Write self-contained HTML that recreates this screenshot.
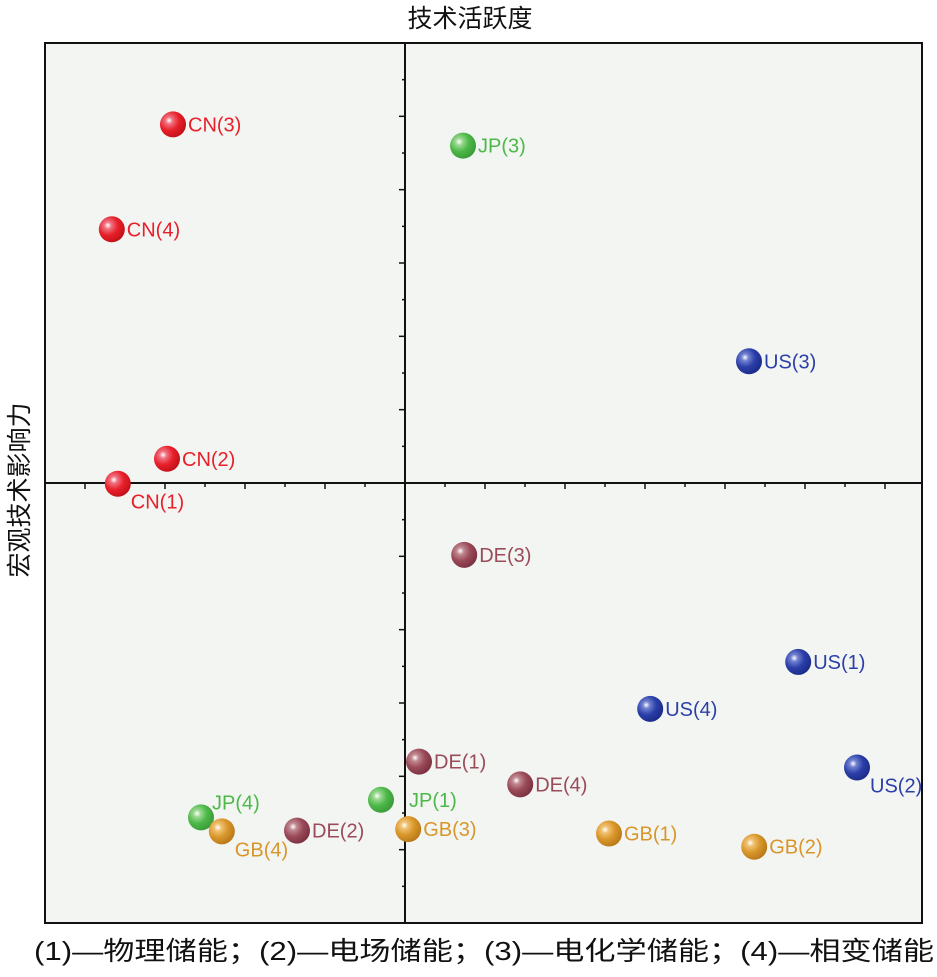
<!DOCTYPE html>
<html><head><meta charset="utf-8"><style>
body{margin:0;background:#fff;}
svg text{font-family:"Liberation Sans","Noto Sans CJK SC",sans-serif;}
</style></head><body>
<svg id="chart" width="937" height="972" viewBox="0 0 937 972" xmlns="http://www.w3.org/2000/svg">
<defs>
<radialGradient id="g-red" cx="0.35" cy="0.35" r="0.7"><stop offset="0" stop-color="#fff"/><stop offset="0.2" stop-color="#f07080"/><stop offset="0.55" stop-color="#e8202a"/><stop offset="1" stop-color="#c01018"/></radialGradient>
<radialGradient id="g-green" cx="0.35" cy="0.35" r="0.7"><stop offset="0" stop-color="#fff"/><stop offset="0.2" stop-color="#9ad890"/><stop offset="0.55" stop-color="#4cb848"/><stop offset="1" stop-color="#3a9a38"/></radialGradient>
<radialGradient id="g-blue" cx="0.35" cy="0.35" r="0.7"><stop offset="0" stop-color="#fff"/><stop offset="0.2" stop-color="#7080d0"/><stop offset="0.55" stop-color="#2b3fa8"/><stop offset="1" stop-color="#1a2a88"/></radialGradient>
<radialGradient id="g-maroon" cx="0.35" cy="0.35" r="0.7"><stop offset="0" stop-color="#fff"/><stop offset="0.2" stop-color="#c08890"/><stop offset="0.55" stop-color="#9a4a58"/><stop offset="1" stop-color="#7a3040"/></radialGradient>
<radialGradient id="g-orange" cx="0.35" cy="0.35" r="0.7"><stop offset="0" stop-color="#fff"/><stop offset="0.2" stop-color="#f0c070"/><stop offset="0.55" stop-color="#d8962a"/><stop offset="1" stop-color="#b87818"/></radialGradient>
</defs>
<rect x="45" y="43" width="877" height="880" fill="#f3f5f2" stroke="#111" stroke-width="2"/>
<g id="axes"></g>
<g id="points"></g>
<text x="470" y="27" font-size="25" text-anchor="middle" fill="#111">技术活跃度</text>
<text transform="translate(28,490) rotate(-90)" font-size="25" text-anchor="middle" fill="#111">宏观技术影响力</text>
<text x="34" y="960" font-size="26" fill="#111" textLength="900" lengthAdjust="spacingAndGlyphs">(1)—物理储能；(2)—电场储能；(3)—电化学储能；(4)—相变储能</text>
</svg>
<script>
const labels=["CN(3)","CN(4)","CN(2)","CN(1)","JP(3)","US(3)","DE(3)","US(1)","US(4)","DE(1)","DE(4)","US(2)","JP(1)","GB(3)","GB(1)","GB(2)","JP(4)","GB(4)","DE(2)"];
const xValues=[-5.8,-7.33,-5.95,-7.18,1.45,8.6,1.48,9.83,6.13,0.35,2.88,11.3,-0.6,0.08,5.1,8.73,-5.1,-4.58,-2.7];
const yValues=[4.89,3.46,0.33,-0.01,4.6,1.66,-0.98,-2.44,-3.08,-3.8,-4.11,-3.88,-4.32,-4.72,-4.78,-4.96,-4.56,-4.75,-4.74];
const groups=["red","red","red","red","green","blue","maroon","blue","blue","maroon","maroon","blue","green","orange","orange","orange","green","orange","maroon"];
const colors={red:"#e8202a",green:"#4cb848",blue:"#2b3fa8",maroon:"#9a4a58",orange:"#d8962a"};
const place=["r","r","r","br","r","r","r","r","r","r","r","br","jp1","r","r","r","ar","br","r"];
const X0=45,X1=922,Y0=43,Y1=923,xMin=-9,xMax=12.925,yMin=-6,yMax=6;
const sx=v=>X0+(v-xMin)/(xMax-xMin)*(X1-X0);
const sy=v=>Y1-(v-yMin)/(yMax-yMin)*(Y1-Y0);
const NS="http://www.w3.org/2000/svg";
const ax=document.getElementById('axes');
function line(x1,y1,x2,y2,w){const l=document.createElementNS(NS,'line');l.setAttribute('x1',x1);l.setAttribute('y1',y1);l.setAttribute('x2',x2);l.setAttribute('y2',y2);l.setAttribute('stroke','#111');l.setAttribute('stroke-width',w);ax.appendChild(l);return l;}
let h=line(X0,sy(0),X1,sy(0),2);


let v=line(sx(0),Y0,sx(0),Y1,2);


for(let i=-8;i<=12;i++){if(i===0)continue;const x=sx(i);const t=line(x,sy(0),x,sy(0)+(i%2===0?6:4),1.5);

}
for(let j=-5.5;j<=5.5;j+=0.5){if(j===0)continue;const y=sy(j);const t=line(sx(0),y,sx(0)-(Number.isInteger(j)?6:3),y,1.5);

}
const pg=document.getElementById('points');
labels.forEach((lab,i)=>{
  const cx=sx(xValues[i]),cy=sy(yValues[i]);
  const c=document.createElementNS(NS,'circle');
  c.setAttribute('cx',cx);c.setAttribute('cy',cy);c.setAttribute('r',13);
  c.setAttribute('fill','url(#g-'+groups[i]+')');
  
  
  pg.appendChild(c);
  const t=document.createElementNS(NS,'text');
  let tx=cx+15,ty=cy+7;
  if(place[i]==='br'){tx=cx+13;ty=cy+25;}
  if(place[i]==='ar'){tx=cx+11;ty=cy-8;}
  if(place[i]==='jp1'){tx=cx+28;ty=cy+7;}
  t.setAttribute('x',tx);t.setAttribute('y',ty);
  t.setAttribute('font-size','20');
  t.setAttribute('fill',colors[groups[i]]);
  t.textContent=lab;
  
  
  pg.appendChild(t);
});
</script>
</body></html>
